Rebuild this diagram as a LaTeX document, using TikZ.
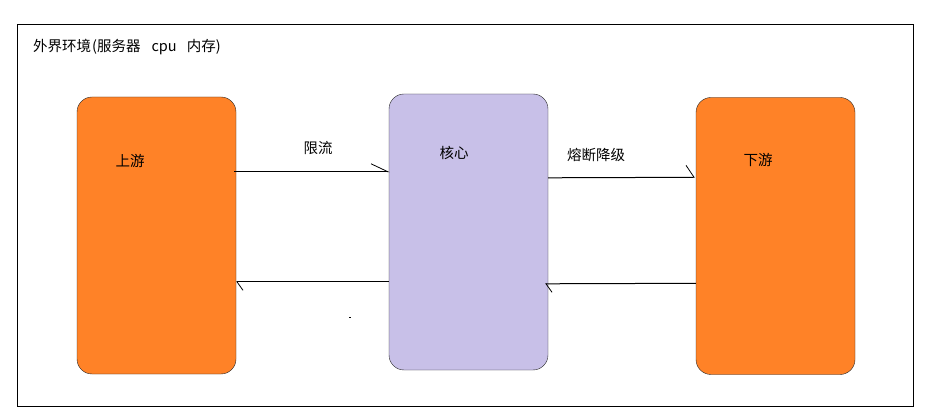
\documentclass[tikz,border=0pt]{standalone}
\usepackage{fontspec}
\setmainfont{Noto Sans CJK SC}
\usetikzlibrary{calc}
\usetikzlibrary{arrows.meta}
\definecolor{orangebox}{RGB}{255,130,39}
\definecolor{purplebox}{RGB}{200,192,232}
\tikzset{
	orangestyle/.style={rectangle, rounded corners=15, draw=black!85, fill=orangebox, minimum width=159, minimum height=277},
	purplestyle/.style={rectangle, rounded corners=15, draw=black!85, fill=purplebox, minimum width=159, minimum height=276},
	labelstyle/.style={font=\fontsize{14.5}{16}\selectfont, inner sep=0pt},
	flow/.style={line width=1, -{Straight Barb[left, length=17, width=16, line width=0.8]}},
	steepflow/.style={line width=1, -{Straight Barb[left, length=6, width=17, line width=0.8]}}
}

\begin{document}
\begin{tikzpicture}[x=1pt, y=-1pt]
	\useasboundingbox (0,0) rectangle (942,419);
	\node[draw=black, line width=1, minimum width=896, minimum height=381, inner sep=0pt] (env) at (465,215.5) {};
	\node[labelstyle, anchor=west] (envlabel) at (33,47) {外界环境\hspace{1pt}(服务器\hspace{11pt}cpu\hspace{10pt}内存)};
	\node[orangestyle] (up) at (156.5,235.5) {};
	\node[purplestyle] (core) at (468.5,232) {};
	\node[orangestyle] (down) at (775.5,236) {};
	\node[labelstyle] (uplabel) at (130,161) {上游};
	\node[labelstyle] (corelabel) at (454,153) {核心};
	\node[labelstyle] (downlabel) at (758,160) {下游};
	\node[labelstyle] (limit) at (318,148) {限流};
	\node[labelstyle] (breaker) at (596,155) {熔断降级};
	\draw[flow] ($(up.north east)+(-2,75)$) -- ($(core.north west)+(1,78)$);
	\draw[steepflow] ($(core.north west)+(0,188)$) -- ($(up.north east)+(0,185)$);
	\draw[line width=1, -{Straight Barb[left, length=8, width=24, line width=0.8]}] ($(core.north east)+(0,84)$) -- ($(down.north west)+(-1,80)$);
	\draw[steepflow] ($(down.north west)+(0,186)$) -- ($(core.north east)+(-3,190)$);
	\fill (349,317.5) rectangle (351,318.5);
\end{tikzpicture}
\end{document}
